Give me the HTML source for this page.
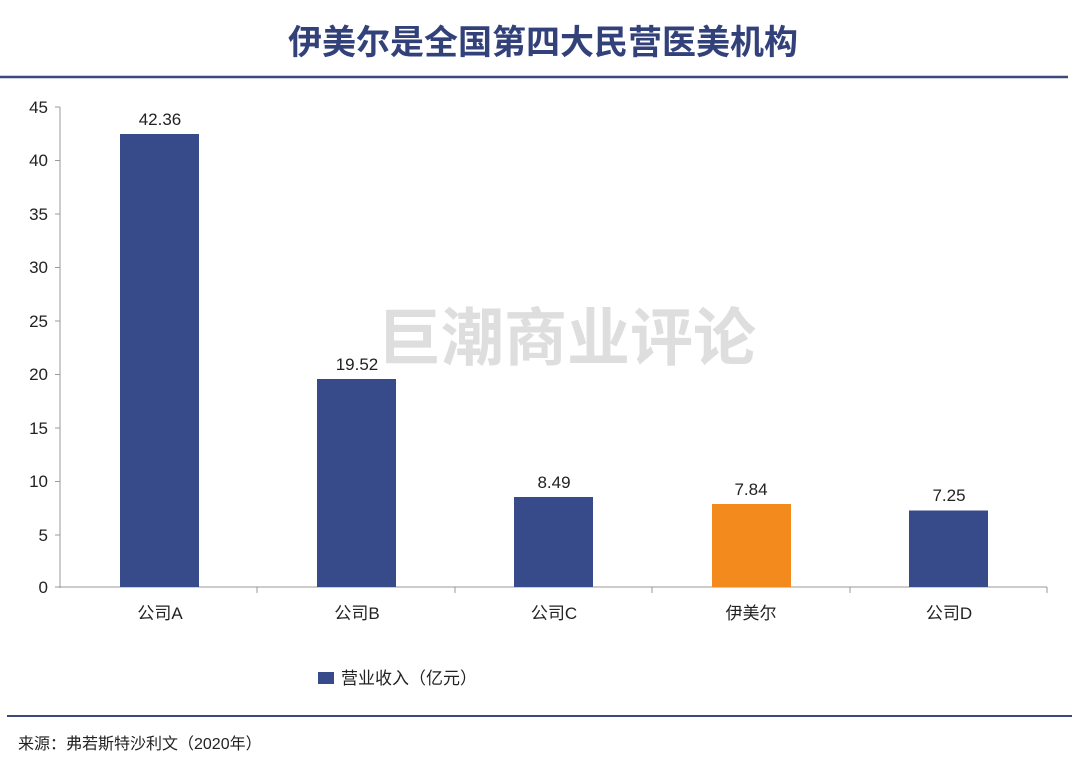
<!DOCTYPE html>
<html><head><meta charset="utf-8"><style>
html,body{margin:0;padding:0;background:#fff;}
svg{display:block;font-family:"Liberation Sans","Noto Sans CJK SC",sans-serif;}
</style></head><body>
<svg width="1080" height="767" viewBox="0 0 1080 767" xmlns="http://www.w3.org/2000/svg">
<rect width="1080" height="767" fill="#fff"/>
<text x="543" y="54" text-anchor="middle" font-size="34" font-weight="bold" fill="#33417a">伊美尔是全国第四大民营医美机构</text>
<line x1="0" y1="77" x2="1068" y2="77" stroke="#3a4a7a" stroke-width="2.5"/>
<text x="567" y="360" text-anchor="middle" font-size="63" font-weight="bold" fill="#d9d9d9" opacity="0.85">巨潮商业评论</text>
<g stroke="#999" stroke-width="1">
<line x1="60" y1="107" x2="60" y2="588"/>
<line x1="60" y1="587" x2="1047" y2="587"/>
<line x1="55" y1="107" x2="60" y2="107"/><line x1="55" y1="160.5" x2="60" y2="160.5"/><line x1="55" y1="214" x2="60" y2="214"/><line x1="55" y1="267.5" x2="60" y2="267.5"/><line x1="55" y1="321" x2="60" y2="321"/><line x1="55" y1="374.5" x2="60" y2="374.5"/><line x1="55" y1="428" x2="60" y2="428"/><line x1="55" y1="481.5" x2="60" y2="481.5"/><line x1="55" y1="535" x2="60" y2="535"/><line x1="55" y1="587" x2="60" y2="587"/>
<line x1="257" y1="587" x2="257" y2="593"/><line x1="455" y1="587" x2="455" y2="593"/><line x1="652" y1="587" x2="652" y2="593"/><line x1="850" y1="587" x2="850" y2="593"/><line x1="1047" y1="587" x2="1047" y2="593"/>
</g>
<g font-size="17" fill="#222" text-anchor="end">
<text x="48" y="113">45</text><text x="48" y="166">40</text><text x="48" y="220">35</text><text x="48" y="273">30</text><text x="48" y="327">25</text><text x="48" y="380">20</text><text x="48" y="434">15</text><text x="48" y="487">10</text><text x="48" y="541">5</text><text x="48" y="593">0</text>
</g>
<rect x="120" y="134" width="79" height="453" fill="#374a8a"/>
<rect x="317" y="379" width="79" height="208" fill="#374a8a"/>
<rect x="514" y="497" width="79" height="90" fill="#374a8a"/>
<rect x="712" y="504" width="79" height="83" fill="#f28a1e"/>
<rect x="909" y="510.5" width="79" height="76.5" fill="#374a8a"/>
<g font-size="17" fill="#222" text-anchor="middle">
<text x="160" y="125">42.36</text><text x="357" y="370">19.52</text><text x="554" y="488">8.49</text><text x="751" y="495">7.84</text><text x="949" y="501">7.25</text>
<text x="160" y="619">公司A</text><text x="357" y="619">公司B</text><text x="554" y="619">公司C</text><text x="751" y="619">伊美尔</text><text x="949" y="619">公司D</text>
</g>
<rect x="318" y="672" width="16" height="12" fill="#374a8a"/>
<text x="341" y="684" font-size="17" fill="#222">营业收入（亿元）</text>
<line x1="7" y1="716" x2="1072" y2="716" stroke="#3a4a7a" stroke-width="2"/>
<text x="18" y="749" font-size="16" fill="#222">来源：弗若斯特沙利文（2020年）</text>
</svg>
</body></html>
